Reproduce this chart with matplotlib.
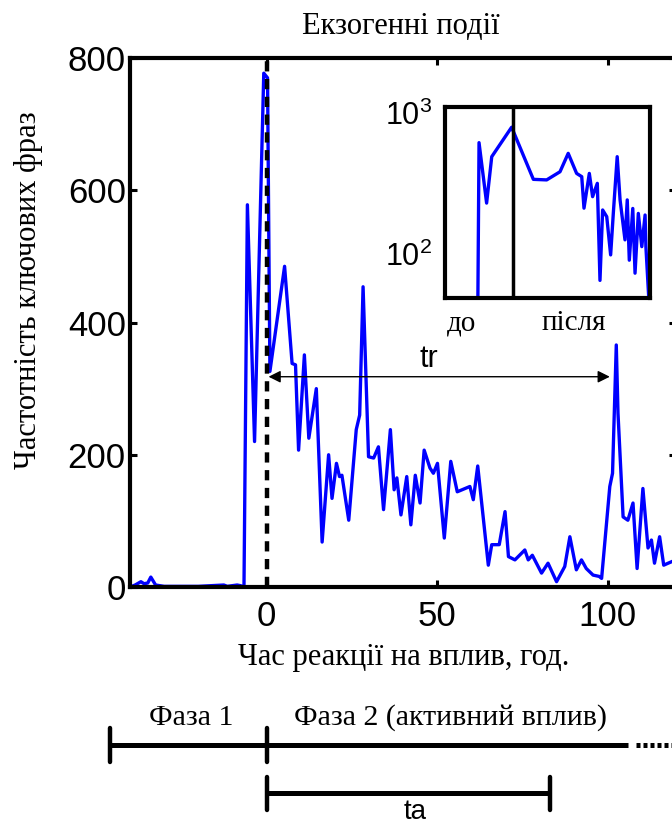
import matplotlib
matplotlib.use("Agg")
import matplotlib.pyplot as plt
from matplotlib.transforms import blended_transform_factory

plt.rcParams['mathtext.fontset'] = 'custom'
plt.rcParams['mathtext.rm'] = 'Liberation Sans'
plt.rcParams['mathtext.it'] = 'Liberation Sans:italic'

SERIF = ['Liberation Serif', 'DejaVu Serif']
SANS = ['Liberation Sans', 'DejaVu Sans']

# ---------------- data ----------------
hours = [-40, -38.5, -36.8, -35.9, -34.8, -33.9, -32.5, -30, -20, -12.5, -11.5, -8.6, -7.6,
         -6.6, -5.6, -3.5, -0.8, 0.3, 1.0, 5.3, 7.5, 8.5, 9.4, 11.1, 12.4, 14.6, 16.3,
         18.2, 19.2, 20.5, 21.4, 22.1, 24.1, 26.3, 27.3, 28.3, 29.9, 31.4, 32.8, 34.3,
         36.3, 37.4, 38.2, 39.4, 41.1, 42.3, 43.6, 45.0, 46.2, 47.9, 48.9, 50.1, 52.1,
         54.0, 55.9, 59.6, 60.6, 61.9, 65.0, 66.0, 68.2, 69.9, 70.9, 72.8, 75.7, 76.7,
         77.9, 80.6, 82.5, 85.0, 87.4, 88.9, 90.8, 92.3, 93.7, 95.7, 97.5, 98.2, 100.6,
         101.4, 102.5, 103.0, 104.5, 105.9, 107.4, 108.6, 110.3, 111.8, 112.8, 113.7,
         115.2, 116.4, 117.7, 119.5]
counts = [0, 3, 8, 5, 6, 15, 3, 1, 1, 3, 1, 3, 2,
          0, 578, 220, 777, 770, 326, 485, 338, 336, 207, 351, 225, 300, 68,
          200, 134, 187, 167, 169, 101, 238, 260, 454, 197, 195, 212, 117,
          238, 147, 165, 109, 167, 94, 169, 127, 207, 180, 172, 187, 74,
          190, 144, 152, 132, 183, 33, 64, 64, 114, 46, 41, 56, 41,
          48, 21, 36, 8, 31, 76, 26, 41, 28, 18, 16, 13, 152,
          172, 366, 263, 106, 101, 127, 28, 149, 59, 71, 36,
          76, 33, 36, 40]

# inset (log scale, before / after)
inset_x = [16.0, 16.6, 20.3, 22.8, 32.5, 43.1, 49.6, 56.1, 60.1, 64.2, 66.7, 67.8, 70.4,
           72.0, 74.3, 75.6, 76.9, 78.9, 80.8, 82.1, 84.0, 85.4, 87.8, 88.9, 89.9, 91.6,
           92.7, 94.3, 96.0, 97.6, 98.0, 99.7]
inset_y = [40, 606, 226, 482, 780, 333, 330, 377, 509, 367, 348, 208, 367,
           251, 312, 64, 202, 181, 97, 191, 482, 238, 124, 238, 89, 207,
           72, 191, 111, 186, 111, 40]
inset_split = 33
inset_labels = ["до", "після"]
inset_label_pos = [8, 63]

y_ticks = [0, 200, 400, 600, 800]
x_ticks = [0, 50, 100]
event_time = 0
tr_start, tr_end, tr_level = 0.6, 100.6, 318
phase1_start, phase2_start, phase2_line_end = -46, 0, 106
ta_end = 83

# ---------------- figure ----------------
W, H = 672, 827
fig = plt.figure(figsize=(W / 100, H / 100), dpi=100)

def fx(px):
    return px / W

def fy(py):
    return 1 - py / H

ax = fig.add_axes([fx(130), fy(587), fx(676) - fx(130), fy(58) - fy(587)])
ax.plot(hours, counts, color=(0, 0, 1), lw=2.4, zorder=2, solid_joinstyle='round')
ax.plot([event_time, event_time], [0, 800], color='k', lw=3.2,
        dashes=(2.3, 1.7), zorder=3)
ax.set_yticks(y_ticks)
ax.set_xticks(x_ticks)
ax.set_xticklabels([str(v) for v in x_ticks])
ax.set_xlim(-40, 120)
ax.set_ylim(0, 800)
for s in ax.spines.values():
    s.set_linewidth(3)
ax.tick_params(direction='in', length=5, width=2.2, top=True, right=True,
               labelsize=25)
ax.tick_params(axis='x', pad=9)
ax.tick_params(axis='y', pad=3)
for lab in ax.get_xticklabels() + ax.get_yticklabels():
    lab.set_family(SANS)

ax.annotate('', xy=(tr_end, tr_level), xytext=(tr_start, tr_level),
            arrowprops=dict(arrowstyle='<|-|>', lw=1.0, color='k',
                            mutation_scale=18, shrinkA=0, shrinkB=0), zorder=4)
ax.text(47.5, tr_level + 4, 'tr', ha='center', va='bottom',
        fontsize=22, family=SANS)

# titles / labels
fig.text(fx(401), fy(26), 'Екзогенні події', ha='center', va='center',
         fontsize=22, family=SERIF)
fig.text(fx(29), fy(290), 'Частотність ключових фраз', ha='center', va='center',
         rotation=90, fontsize=22, family=SERIF)
fig.text(fx(404), fy(657), 'Час реакції на вплив, год.', ha='center', va='center',
         fontsize=22, family=SERIF)

# inset
axi = fig.add_axes([fx(445), fy(298), fx(650) - fx(445), fy(107) - fy(298)])
axi.plot(inset_x, inset_y, color=(0, 0, 1), lw=2.4, solid_joinstyle='round')
axi.axvline(inset_split, color='k', lw=2.5)
axi.set_yscale('log')
axi.set_yticks([100, 1000])
axi.set_yticklabels([r'$10^2$', r'$10^3$'])
axi.minorticks_off()
axi.set_xticks(inset_label_pos)
axi.set_xticklabels(inset_labels)
axi.set_ylim(48, 1085)
axi.set_xlim(0, 100)
for s in axi.spines.values():
    s.set_linewidth(3)
axi.tick_params(length=0, labelsize=22)
axi.tick_params(axis='y', pad=9)
axi.tick_params(axis='x', pad=9)
for lab in axi.get_xticklabels():
    lab.set_family(SERIF)
    lab.set_fontsize(21)

# phase diagram below, x in data units of the main axis
tr = blended_transform_factory(ax.transData, fig.transFigure)
y1 = fy(745)
fig.add_artist(plt.Line2D([phase1_start, phase2_line_end], [y1, y1], transform=tr,
                          color='k', lw=3.6, solid_capstyle='butt'))
fig.add_artist(plt.Line2D([108.4, 120], [y1, y1], transform=tr, color='k', lw=3.6,
                          dashes=(0.8, 0.6)))
for xv in (phase1_start, phase2_start):
    fig.add_artist(plt.Line2D([xv, xv], [fy(728), fy(762)], transform=tr,
                              color='k', lw=3.2, solid_capstyle='round'))
y2 = fy(793)
fig.add_artist(plt.Line2D([phase2_start, ta_end], [y2, y2], transform=tr,
                          color='k', lw=3.6, solid_capstyle='butt'))
for xv in (phase2_start, ta_end):
    fig.add_artist(plt.Line2D([xv, xv], [fy(777), fy(810)], transform=tr,
                              color='k', lw=3.2, solid_capstyle='round'))
fig.text((phase1_start + phase2_start) / 2 + 1, fy(718), 'Фаза 1', transform=tr,
         ha='center', va='center', fontsize=21.5, family=SERIF)
fig.text(54, fy(718), 'Фаза 2 (активний вплив)', transform=tr,
         ha='center', va='center', fontsize=21.5, family=SERIF)
fig.text(43.5, fy(819), 'ta', transform=tr, ha='center', va='baseline',
         fontsize=20, family=SANS)

fig.savefig('out.png', dpi=100)
